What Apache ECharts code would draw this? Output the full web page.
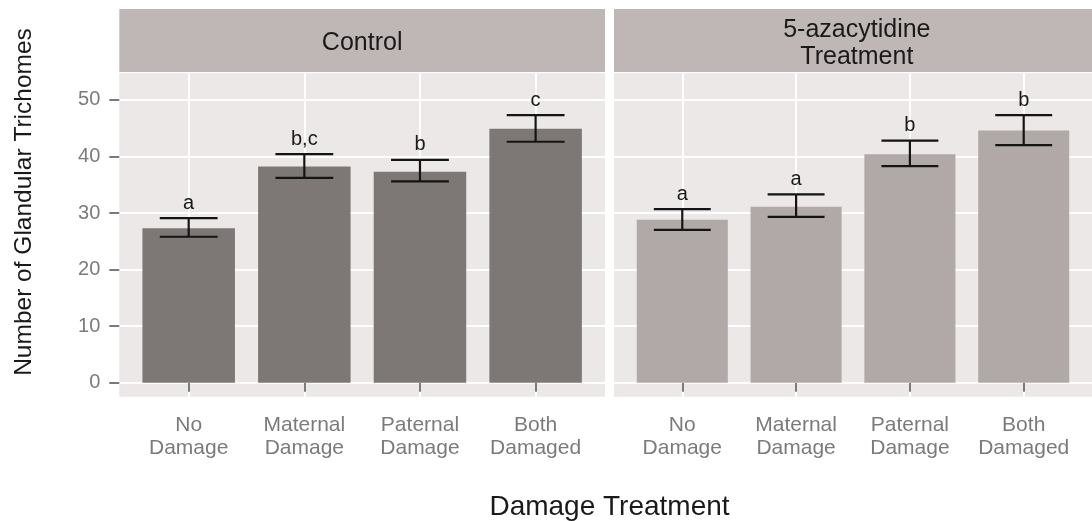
<!DOCTYPE html>
<html><head><meta charset="utf-8">
<script src="https://cdn.jsdelivr.net/npm/echarts@6/dist/echarts.min.js"></script>
<style>html,body{margin:0;padding:0;background:#fff}#c{width:1092px;height:521px}</style>
</head><body><div id="c"></div>
<script>
// ---- data ----
const categories = ['No\nDamage', 'Maternal\nDamage', 'Paternal\nDamage', 'Both\nDamaged'];
const panelTitles = ['Control', '5-azacytidine\nTreatment'];
const yTicks = [0, 10, 20, 30, 40, 50];
const controlMean = [27.3, 38.2, 37.3, 44.9];
const controlLow = [25.8, 36.2, 35.6, 42.6];
const controlHigh = [29.1, 40.4, 39.4, 47.3];
const controlLetters = ['a', 'b,c', 'b', 'c'];
const azaMean = [28.8, 31.1, 40.4, 44.6];
const azaLow = [27.0, 29.3, 38.3, 42.0];
const azaHigh = [30.7, 33.3, 42.8, 47.3];
const azaLetters = ['a', 'a', 'b', 'b'];

// ---- layout / style ----
const FONT = '"Liberation Sans", Arial, Helvetica, sans-serif';
const GRID_TOP = 73.3, GRID_H = 323.4, GRID_W = 485.7;
const GRID_LEFT = [119.3, 614];
const STRIP_TOP = 9, STRIP_H = 63;
const PANEL_BG = '#EBE8E7', STRIP_BG = '#BEB7B5';
const BAR_COLORS = ['#7D7876', '#B1A9A7'];
const TICK_COL = '#7B7B7B';
const positions = categories.map((c, i) => i + 1);

const chart = echarts.init(document.getElementById('c'), null, {renderer: 'canvas'});

function makeX(gi) {
  return {
    type: 'value', gridIndex: gi, min: 0.4, max: 4.6,
    axisLine: {show: false},
    axisTick: {show: true, length: 9, customValues: positions, lineStyle: {color: TICK_COL, width: 2}},
    axisLabel: {
      customValues: positions, margin: 17,
      formatter: v => categories[Math.round(v) - 1] || '',
      color: TICK_COL, fontFamily: FONT, fontSize: 21, lineHeight: 23
    },
    splitLine: {show: true, lineStyle: {color: '#fff', width: 2}}
  };
}
function makeY(gi) {
  return {
    type: 'value', gridIndex: gi, min: -2.48, max: 54.7,
    axisLine: {show: false},
    axisTick: {show: gi === 0, length: 10, customValues: yTicks, lineStyle: {color: TICK_COL, width: 2}},
    axisLabel: {show: gi === 0, customValues: yTicks, margin: 19, color: TICK_COL, fontFamily: FONT, fontSize: 20},
    splitLine: {show: true, lineStyle: {color: '#fff', width: 2}}
  };
}

function barSeries(gi, means) {
  return {
    type: 'custom', xAxisIndex: gi, yAxisIndex: gi,
    data: positions.map((p, i) => [p, means[i]]),
    renderItem: (params, api) => {
      const x = api.value(0), y = api.value(1);
      const p0 = api.coord([x - 0.4, y]);
      const p1 = api.coord([x + 0.4, 0]);
      return {type: 'rect', shape: {x: p0[0], y: p0[1], width: p1[0] - p0[0], height: p1[1] - p0[1]},
              style: {fill: BAR_COLORS[gi]}};
    }
  };
}
function errSeries(gi, lows, highs, letters) {
  return {
    type: 'custom', xAxisIndex: gi, yAxisIndex: gi, z: 5,
    data: positions.map((p, i) => [p, lows[i], highs[i]]),
    renderItem: (params, api) => {
      const x = api.value(0), lo = api.value(1), hi = api.value(2);
      const top = api.coord([x, hi]), bot = api.coord([x, lo]);
      const l = api.coord([x - 0.25, hi])[0], r = api.coord([x + 0.25, hi])[0];
      const st = {stroke: '#141414', lineWidth: 2.2};
      return {type: 'group', children: [
        {type: 'line', shape: {x1: top[0], y1: top[1], x2: bot[0], y2: bot[1]}, style: st},
        {type: 'line', shape: {x1: l, y1: top[1], x2: r, y2: top[1]}, style: st},
        {type: 'line', shape: {x1: l, y1: bot[1], x2: r, y2: bot[1]}, style: st},
        {type: 'text', x: top[0], y: top[1] - 5,
         style: {text: letters[params.dataIndex], fill: '#1a1a1a', font: '20px ' + FONT,
                 textAlign: 'center', textVerticalAlign: 'bottom'}}
      ]};
    }
  };
}

const graphics = [];
GRID_LEFT.forEach((gl, i) => {
  graphics.push({type: 'rect', left: gl, top: STRIP_TOP, shape: {width: GRID_W, height: STRIP_H},
                 style: {fill: STRIP_BG}, silent: true});
  graphics.push({type: 'text', x: gl + GRID_W / 2, y: STRIP_TOP + STRIP_H / 2 + 3,
                 style: {text: panelTitles[i], fill: '#1a1a1a', font: '25px ' + FONT,
                         textAlign: 'center', textVerticalAlign: 'middle', lineHeight: 27}});
});
graphics.push({type: 'text', x: (GRID_LEFT[0] + GRID_LEFT[1] + GRID_W) / 2, y: 507,
               style: {text: 'Damage Treatment', fill: '#1a1a1a', font: '28px ' + FONT,
                       textAlign: 'center', textVerticalAlign: 'middle'}});
graphics.push({type: 'text', x: 24, y: 202, rotation: Math.PI / 2,
               style: {text: 'Number of Glandular Trichomes', fill: '#1a1a1a', font: '24.5px ' + FONT,
                       textAlign: 'center', textVerticalAlign: 'middle'}});

chart.setOption({
  animation: false,
  backgroundColor: '#fff',
  grid: GRID_LEFT.map(gl => ({left: gl, top: GRID_TOP, width: GRID_W, height: GRID_H,
                               show: true, backgroundColor: PANEL_BG, borderWidth: 0})),
  xAxis: [makeX(0), makeX(1)],
  yAxis: [makeY(0), makeY(1)],
  series: [
    barSeries(0, controlMean), errSeries(0, controlLow, controlHigh, controlLetters),
    barSeries(1, azaMean), errSeries(1, azaLow, azaHigh, azaLetters)
  ],
  graphic: graphics
});
</script></body></html>
